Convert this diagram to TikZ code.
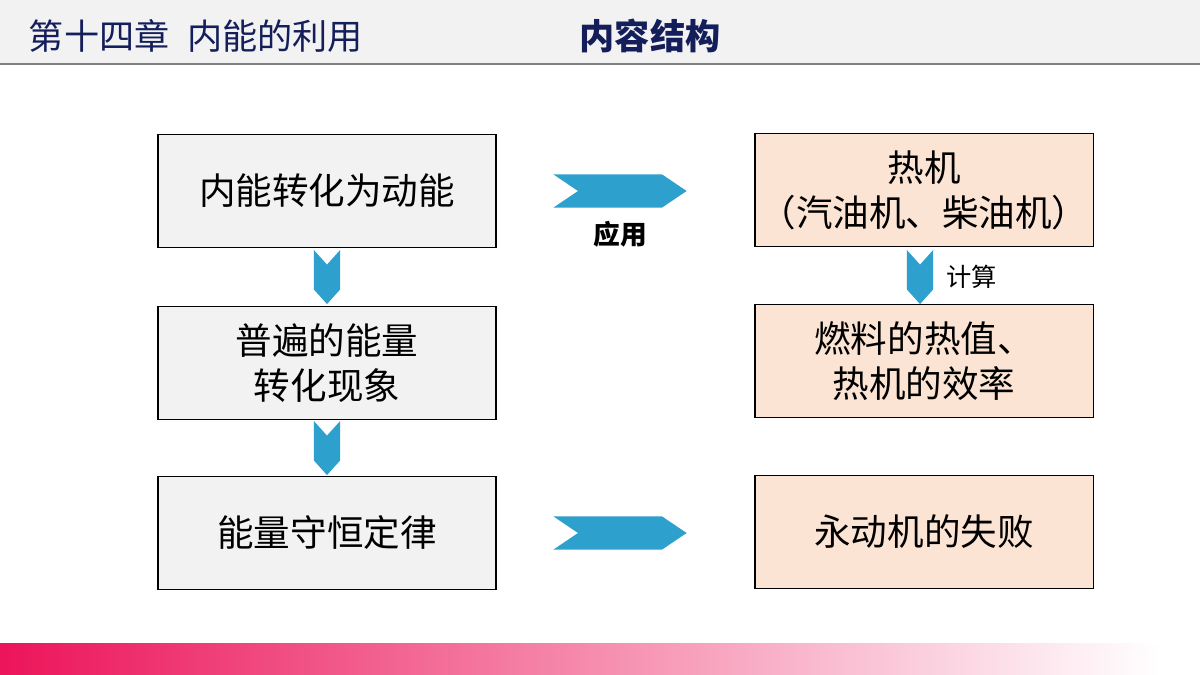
\documentclass[tikz,border=0pt]{standalone}
\usepackage{fontspec}
\setmainfont{Noto Sans CJK SC}
\usetikzlibrary{shapes.symbols,positioning}
\definecolor{navy}{RGB}{20,30,90}
\definecolor{chev}{RGB}{46,160,206}
\definecolor{peach}{RGB}{252,228,212}
\definecolor{light}{RGB}{242,242,242}
\definecolor{rosa}{RGB}{236,20,90}
\begin{document}
\begin{tikzpicture}[x=0.025cm,y=-0.025cm]
		% formatos
		\tikzset{box/.style={draw, thick, minimum width=8.45cm, minimum height=2.83cm, align=center, font=\fontsize{26}{32}\selectfont, inner sep=0pt}}
		\tikzset{leftbox/.style={box, fill=light}}
		\tikzset{rightbox/.style={box, fill=peach}}
		\tikzset{chevright/.style={signal, fill=chev, signal from=west, signal to=east, signal pointer angle=68, minimum width=3.33cm, minimum height=0.83cm, inner sep=0pt}}
		\tikzset{chevdown/.style={signal, fill=chev, signal from=north, signal to=south, signal pointer angle=84, minimum width=0.66cm, minimum height=0.62cm, inner sep=0pt}}
		% fondo
		\useasboundingbox (0,0) rectangle (1200,675);
		\fill[light] (0,0) rectangle (1200,63);
		\draw[gray, thick] (0,64) -- (1200,64);
		\shade[left color=rosa, right color=white] (0,643) rectangle (1160,675);
		\node[anchor=west, text=navy, font=\fontsize{25}{30}\selectfont] (capitulo) at (24,36) {第十四章\hspace{0.5em}内能的利用};
		\node[text=navy, font=\fontsize{25}{30}\selectfont\bfseries] (titulo) at (650,36) {内容结构};
		% nodos
		\node[leftbox] (dongneng) at (327,191) {内能转化为动能};
		\node[leftbox] (zhuanhua) at (327,363) {普遍的能量\\转化现象};
		\node[leftbox] (shouheng) at (327,533) {能量守恒定律};
		\node[rightbox] (reji) at (924,190) {热机\\（汽油机、柴油机）};
		\node[rightbox] (rezhi) at (924,361) {燃料的热值、\\热机的效率};
		\node[rightbox] (yongdong) at (924,532) {永动机的失败};
		% flechas
		\node[chevdown] (d1) at (327,277) {};
		\node[chevdown] (d2) at (327,448) {};
		\node[chevdown] (d3) at (920,277) {};
		\node[chevright] (r1) at (620,191) {};
		\node[chevright] (r2) at (620,533) {};
		% etiquetas
		\node[font=\fontsize{19}{23}\selectfont\bfseries] (yingyong) [below=0.2cm of r1] {应用};
		\node[font=\fontsize{18}{22}\selectfont] (jisuan) [right=0.2cm of d3] {计算};
	\end{tikzpicture}
\end{document}
